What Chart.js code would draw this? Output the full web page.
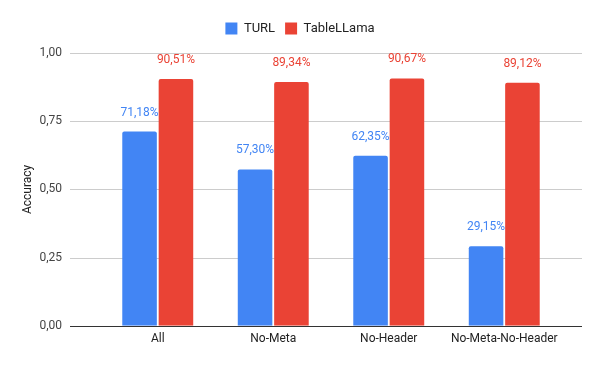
<!DOCTYPE html>
<html>
<head>
<meta charset="utf-8">
<script src="https://cdn.jsdelivr.net/npm/chart.js@4.4.0/dist/chart.umd.min.js"></script>
<style>
  html, body { margin: 0; padding: 0; background: #fff; }
  #wrap { width: 600px; height: 371px; }
</style>
</head>
<body>
<div id="wrap"><canvas id="chart" width="600" height="371"></canvas></div>
<script>
// données
const categories = ['All', 'No-Meta', 'No-Header', 'No-Meta-No-Header'];
const turl = [0.7118, 0.5730, 0.6235, 0.2915];
const tableLlama = [0.9051, 0.8934, 0.9067, 0.8912];
const yTicks = [0, 0.25, 0.5, 0.75, 1];

const blue = '#4285F4';
const red = '#EA4335';

function fmt(v, d) {
    return v.toFixed(d).replace('.', ',');
}

// un peu plus d'espace sous la légende
const legendSpace = {
    id: 'legendSpace',
    beforeInit(chart) {
        const origFit = chart.legend.fit;
        chart.legend.fit = function () {
            origFit.bind(chart.legend)();
            this.height += 8;
        };
    }
};

// grille horizontale qui dépasse la zone des barres (style Google Sheets)
const gridPlugin = {
    id: 'gridPlugin',
    beforeDatasetsDraw(chart) {
        const ctx = chart.ctx;
        const y = chart.scales.y;
        const left = 70, right = 582;
        ctx.save();
        yTicks.forEach(t => {
            const py = Math.round(y.getPixelForValue(t)) + 0.5;
            ctx.strokeStyle = t === 0 ? '#333333' : '#cccccc';
            ctx.lineWidth = 1;
            ctx.beginPath();
            ctx.moveTo(left, py);
            ctx.lineTo(right, py);
            ctx.stroke();
        });
        ctx.restore();
    }
};

// étiquettes en % au-dessus des barres
const labelPlugin = {
    id: 'labelPlugin',
    afterDatasetsDraw(chart) {
        const ctx = chart.ctx;
        ctx.save();
        ctx.font = '12px Roboto';
        ctx.textAlign = 'center';
        ctx.textBaseline = 'middle';
        chart.data.datasets.forEach((ds, i) => {
            chart.getDatasetMeta(i).data.forEach((bar, j) => {
                ctx.fillStyle = ds.backgroundColor;
                ctx.fillText(fmt(ds.data[j] * 100, 2) + '%', bar.x, bar.y - 19);
            });
        });
        ctx.restore();
    }
};

new Chart(document.getElementById('chart'), {
    type: 'bar',
    data: {
        labels: categories,
        datasets: [
            { label: 'TURL', data: turl, backgroundColor: blue },
            { label: 'TableLLama', data: tableLlama, backgroundColor: red }
        ]
    },
    options: {
        responsive: false,
        animation: false,
        layout: { padding: { top: 12, right: 0, bottom: 0, left: 0 } },
        datasets: {
            bar: {
                categoryPercentage: 0.63,
                barPercentage: 0.95,
                borderRadius: { topLeft: 2, topRight: 2 },
                borderSkipped: 'bottom'
            }
        },
        plugins: {
            legend: {
                position: 'top',
                labels: {
                    boxWidth: 12,
                    boxHeight: 12,
                    padding: 10,
                    color: '#222222',
                    font: { family: 'Roboto', size: 13 }
                }
            },
            tooltip: { enabled: false }
        },
        scales: {
            x: {
                afterFit: (scale) => { scale.height = 40; },
                grid: { display: false, drawTicks: false },
                border: { display: false },
                ticks: { color: '#222222', padding: 6, maxRotation: 0, font: { family: 'Roboto', size: 12 } }
            },
            y: {
                min: 0,
                max: 1,
                afterFit: (scale) => { scale.width = 100; },
                grid: { display: false, drawTicks: false },
                border: { display: false },
                title: {
                    display: true,
                    text: 'Accuracy',
                    color: '#222222',
                    font: { family: 'Roboto', size: 12 },
                    padding: { top: 21, bottom: 0 }
                },
                ticks: {
                    stepSize: 0.25,
                    padding: 38,
                    color: '#444444',
                    font: { family: 'Roboto', size: 12 },
                    callback: (v) => fmt(v, 2)
                }
            },
            // axe vide à droite pour réserver la marge
            yRight: {
                position: 'right',
                min: 0,
                max: 1,
                afterFit: (scale) => { scale.width = 38; },
                grid: { display: false, drawTicks: false },
                border: { display: false },
                ticks: { display: false }
            }
        }
    },
    plugins: [legendSpace, gridPlugin, labelPlugin]
});
</script>
</body>
</html>
